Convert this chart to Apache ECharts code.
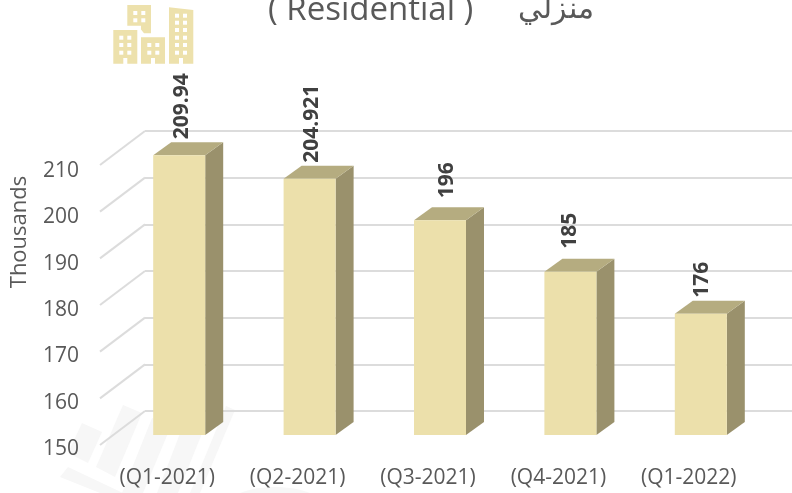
<!DOCTYPE html>
<html><head><meta charset="utf-8">
<script src="https://cdn.jsdelivr.net/npm/echarts@6/dist/echarts.min.js"></script>
<style>html,body{margin:0;padding:0;background:#fff}#c{width:792px;height:493px}</style>
</head><body><div id="c"></div>
<script>
const categories = ['(Q1-2021)','(Q2-2021)','(Q3-2021)','(Q4-2021)','(Q1-2022)'];
const values = [209.94,204.921,196,185,176];
const valueLabels = ['209.94','204.921','196','185','176'];
const yMin = 150, yMax = 210, yStep = 10;
const yTicks = [150,160,170,180,190,200,210];

const FONT = '"Open Sans", sans-serif';
const FRONT='#ece0ab', TOP='#b5ac80', SIDE='#9a916c', GRID='#dcdcdc';
// 3-D look: offsets from the front plane
const WALL = {dx:45, dy:-34};   // back wall
const BAR = {dx:12, dy:-10, w:52, depthX:18, depthY:-13};
const LABEL_NUDGE = [[2,0],[1,0],[6,-6],[-1,-7],[0,0]];

const chart = echarts.init(document.getElementById('c'));

function buildingIcon(){
  const fill={fill:'#ede1ac'}, win={fill:'#ffffff'}, els=[];
  const poly=(p)=>els.push({type:'polygon',shape:{points:p},style:fill});
  poly([[113.3,30],[137.3,30],[137.3,63.7],[127.3,63.7],[127.3,58],[123.3,58],[123.3,63.7],[113.3,63.7]]);
  poly([[127.3,5],[151,5],[151,33.3],[144,33.3],[141,29.5],[141,25.7],[127.3,25.7]]);
  poly([[141,37.3],[165,37.3],[165,63.7],[155,63.7],[155,58],[151,58],[151,63.7],[141,63.7]]);
  poly([[169,7.3],[193.3,10],[193.3,63.7],[183,63.7],[183,58],[179,58],[179,63.7],[169,63.7]]);
  const w=(x,y)=>els.push({type:'rect',shape:{x:x,y:y,width:4,height:4},style:win});
  [35.7,43,50.7].forEach(y=>{w(119.3,y);w(127.3,y);});
  [11,18.3].forEach(y=>{w(133.3,y);w(141.3,y);});
  [43,50.7].forEach(y=>{w(147.3,y);w(155.3,y);});
  [13.7,20.7,28,35.7,43,50.7].forEach(y=>{w(175,y);w(183,y);});
  return els;
}
function watermark(){
  const s={fill:'#f7f7f7'}, els=[];
  const stripes=[
    [[82,423],[102,432],[88,463],[68,453]],
    [[123,405],[142,413],[115,477],[96,467]],
    [[152,418],[171,426],[143,493],[122,493]],
    [[186,418],[205,426],[178,493],[157,493]],
    [[226,406],[235,410],[200,493],[190,493]],
    [[68,467],[60,477],[100,493],[123,493]]
  ];
  stripes.forEach(p=>els.push({type:'polygon',shape:{points:p},style:s}));
  els.push({type:'ellipse',shape:{cx:275,cy:510,rx:52,ry:23},style:s});
  return els;
}

chart.setOption({
  animation:false,
  backgroundColor:'#ffffff',
  title:[
    {text:'( Residential )',left:263,top:-11,textStyle:{fontFamily:FONT,fontSize:33,fontWeight:'normal',color:'#595959'}},
    {text:'منزلي',left:513,top:-11,textStyle:{fontFamily:FONT,fontSize:30,fontWeight:'normal',color:'#595959'}}
  ],
  graphic:{elements:[
    {type:'group',silent:true,children:watermark()},
    {type:'group',silent:true,children:buildingIcon()},
    {type:'text',silent:true,x:20,y:232,rotation:Math.PI/2,
     style:{text:'Thousands',fontFamily:FONT,fontSize:22,fill:'#595959',align:'center',verticalAlign:'middle'}}
  ]},
  grid:[
    {left:102,width:652,top:165,height:280},
    {left:145,right:0,top:131,height:280},
    {left:102,width:652,top:171,height:278}
  ],
  xAxis:[
    {type:'category',gridIndex:0,data:categories,axisLine:{show:false},axisTick:{show:false},
     axisLabel:{margin:23,fontFamily:FONT,fontSize:21,color:'#595959',interval:0}},
    {type:'category',gridIndex:1,data:categories,show:false},
    {type:'category',gridIndex:2,data:categories,show:false}
  ],
  yAxis:[
    {type:'value',gridIndex:0,min:yMin,max:yMax,interval:yStep,show:false},
    {type:'value',gridIndex:1,min:yMin,max:yMax,interval:yStep,axisLine:{show:false},axisTick:{show:false},
     axisLabel:{show:false},splitLine:{show:true,lineStyle:{color:GRID,width:2}}},
    {type:'value',gridIndex:2,min:yMin,max:yMax,interval:yStep,
     axisLine:{show:false},axisTick:{show:false},splitLine:{show:false},
     axisLabel:{margin:23,fontFamily:FONT,fontSize:21,color:'#595959'}}
  ],
  series:[
    {type:'custom',xAxisIndex:0,yAxisIndex:0,silent:true,z:1,clip:false,
     data:yTicks.map(v=>[0,v]),
     renderItem(p,api){
       const c=api.coord([0,api.value(1)]);
       const x0=p.coordSys.x, y0=c[1];
       return {type:'line',shape:{x1:x0-2,y1:y0,x2:x0+WALL.dx-2,y2:y0+WALL.dy},style:{stroke:GRID,lineWidth:2}};
     }},
    {type:'custom',xAxisIndex:0,yAxisIndex:0,silent:true,z:3,clip:false,
     data:values.map((v,i)=>[i,v]),
     renderItem(p,api){
       const i=api.value(0), v=api.value(1);
       const top=api.coord([i,v]), base=api.coord([i,yMin]);
       const l=top[0]+BAR.dx-BAR.w/2, r=l+BAR.w, t=top[1]+BAR.dy, b=base[1]+BAR.dy;
       const dx=BAR.depthX, dy=BAR.depthY, n=LABEL_NUDGE[i];
       return {type:'group',children:[
         {type:'polygon',shape:{points:[[r,t],[r+dx,t+dy],[r+dx,b+dy],[r,b]]},style:{fill:SIDE}},
         {type:'polygon',shape:{points:[[l,t],[l+dx,t+dy],[r+dx,t+dy],[r,t]]},style:{fill:TOP}},
         {type:'rect',shape:{x:l,y:t,width:BAR.w,height:b-t},style:{fill:FRONT}},
         {type:'text',x:l+BAR.w/2+1+n[0],y:t+dy-3+n[1],rotation:Math.PI/2,
          style:{text:valueLabels[i],fontFamily:FONT,fontSize:21,fontWeight:'bold',fill:'#404040',align:'left',verticalAlign:'middle'}}
       ]};
     }}
  ]
});
</script></body></html>
